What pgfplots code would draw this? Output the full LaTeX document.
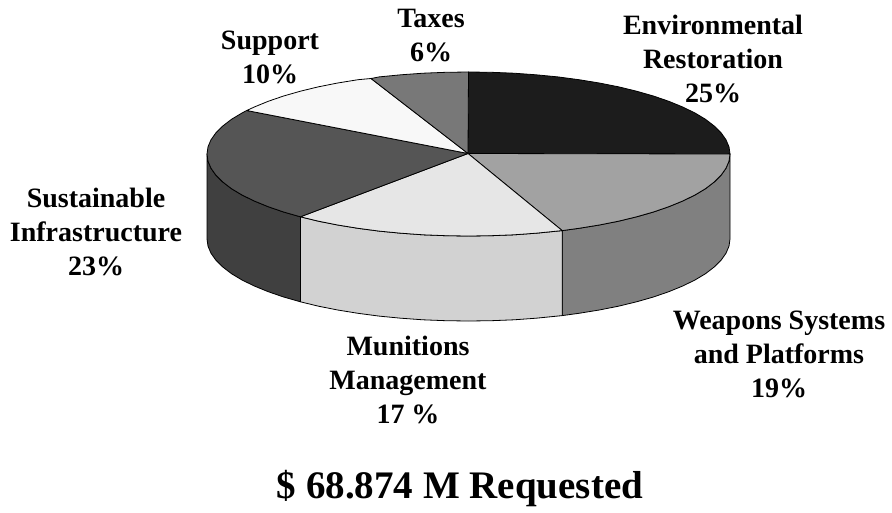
\documentclass[border=0pt]{standalone}
\usepackage{fontspec}
\setmainfont{Liberation Serif}
\usepackage{pgfplots}
\pgfplotsset{compat=1.18}
\definecolor{cEnv}{HTML}{1C1C1C}
\definecolor{cWeaT}{HTML}{A2A2A2}
\definecolor{cWeaS}{HTML}{808080}
\definecolor{cMunT}{HTML}{E6E6E6}
\definecolor{cMunS}{HTML}{D2D2D2}
\definecolor{cSusT}{HTML}{555555}
\definecolor{cSusS}{HTML}{404040}
\definecolor{cSup}{HTML}{F8F8F8}
\definecolor{cTax}{HTML}{787878}
\begin{document}
\begin{tikzpicture}[x=1pt,y=1pt]
\path[use as bounding box] (0,0) rectangle (892,512);
\begin{axis}[at={(0,0)},anchor=south west,scale only axis,width=892pt,height=512pt,
  xmin=0,xmax=892,ymin=0,ymax=512,y dir=reverse,hide axis,clip=false]
\pgfplotsset{every axis plot/.append style={draw=black,line width=0.8pt,line join=round}}
% sides
\addplot[fill=cWeaS] coordinates {(730.0,154.0)(729.0,161.2)(726.0,168.2)(721.1,175.2)(714.2,182.0)(705.5,188.7)(695.0,195.0)(682.7,201.0)(668.8,206.7)(653.4,212.0)(636.6,216.8)(618.5,221.2)(599.3,225.0)(579.0,228.3)(562.2,230.6)
 (562.2,315.6)(579.0,313.3)(599.3,310.0)(618.5,306.2)(636.6,301.8)(653.4,297.0)(668.8,291.7)(682.7,286.0)(695.0,280.0)(705.5,273.7)(714.2,267.0)(721.1,260.2)(726.0,253.2)(729.0,246.2)(730.0,239.0)} -- cycle;
\addplot[fill=cMunS] coordinates {(562.2,230.6)(536.2,233.2)(513.9,234.8)(491.3,235.7)(468.5,236.0)(445.7,235.7)(423.1,234.8)(400.8,233.2)(379.1,231.1)(358.0,228.3)(337.7,225.0)(318.5,221.2)(300.4,216.8)
 (300.4,301.8)(318.5,306.2)(337.7,310.0)(358.0,313.3)(379.1,316.1)(400.8,318.2)(423.1,319.8)(445.7,320.7)(468.5,321.0)(491.3,320.7)(513.9,319.8)(536.2,318.2)(562.2,315.6)} -- cycle;
\addplot[fill=cSusS] coordinates {(300.4,216.8)(283.6,212.0)(268.2,206.7)(254.3,201.0)(242.0,195.0)(231.5,188.7)(222.8,182.0)(215.9,175.2)(211.0,168.2)(208.0,161.2)(207.0,154.0)
 (207.0,239.0)(208.0,246.2)(211.0,253.2)(215.9,260.2)(222.8,267.0)(231.5,273.7)(242.0,280.0)(254.3,286.0)(268.2,291.7)(283.6,297.0)(300.4,301.8)} -- cycle;
% top slices
\addplot[fill=cEnv] coordinates {(468,153.5)(468.5,72.0)(491.3,72.3)(513.9,73.2)(536.2,74.8)(557.9,76.9)(579.0,79.7)(599.3,83.0)(618.5,86.8)(636.6,91.2)(653.4,96.0)(668.8,101.3)(682.7,107.0)(695.0,113.0)(705.5,119.3)(714.2,126.0)(721.1,132.8)(726.0,139.8)(729.0,146.8)(730.0,154.0)} -- cycle;
\addplot[fill=cWeaT] coordinates {(468,153.5)(730.0,154.0)(729.0,161.2)(726.0,168.2)(721.1,175.2)(714.2,182.0)(705.5,188.7)(695.0,195.0)(682.7,201.0)(668.8,206.7)(653.4,212.0)(636.6,216.8)(618.5,221.2)(599.3,225.0)(579.0,228.3)(562.2,230.6)} -- cycle;
\addplot[fill=cMunT] coordinates {(468,153.5)(562.2,230.6)(536.2,233.2)(513.9,234.8)(491.3,235.7)(468.5,236.0)(445.7,235.7)(423.1,234.8)(400.8,233.2)(379.1,231.1)(358.0,228.3)(337.7,225.0)(318.5,221.2)(300.4,216.8)} -- cycle;
\addplot[fill=cSusT] coordinates {(468,153.5)(300.4,216.8)(283.6,212.0)(268.2,206.7)(254.3,201.0)(242.0,195.0)(231.5,188.7)(222.8,182.0)(215.9,175.2)(211.0,168.2)(208.0,161.2)(207.0,154.0)(208.0,146.8)(211.0,139.8)(215.9,132.8)(222.8,126.0)(231.5,119.3)(242.0,113.0)(246.7,110.5)} -- cycle;
\addplot[fill=cSup] coordinates {(468,153.5)(246.7,110.5)(254.3,107.0)(268.2,101.3)(283.6,96.0)(300.4,91.2)(318.5,86.8)(337.7,83.0)(358.0,79.7)(371.0,78.5)} -- cycle;
\addplot[fill=cTax] coordinates {(468,153.5)(371.0,78.5)(379.1,76.9)(400.8,74.8)(423.1,73.2)(445.7,72.3)(468.5,72.0)} -- cycle;
% labels
\tikzset{lab/.style={anchor=base,font=\fontsize{28}{28}\selectfont\bfseries,inner sep=0pt}}
\node[lab] at (axis cs:431,27) {Taxes};
\node[lab] at (axis cs:431,61) {6\%};
\node[lab] at (axis cs:270,49) {Support};
\node[lab] at (axis cs:270,83) {10\%};
\node[lab] at (axis cs:713,34) {Environmental};
\node[lab] at (axis cs:713,68) {Restoration};
\node[lab] at (axis cs:713,102) {25\%};
\node[lab] at (axis cs:96,207) {Sustainable};
\node[lab] at (axis cs:96,241) {Infrastructure};
\node[lab] at (axis cs:96,275) {23\%};
\node[lab] at (axis cs:779,329) {Weapons Systems};
\node[lab] at (axis cs:779,363) {and Platforms};
\node[lab] at (axis cs:779,397) {19\%};
\node[lab] at (axis cs:408,355) {Munitions};
\node[lab] at (axis cs:408,389) {Management};
\node[lab] at (axis cs:408,423) {17 \%};
\node[lab,font=\fontsize{39}{39}\selectfont\bfseries] at (axis cs:460,498) {\$ 68.874 M Requested};
\end{axis}
\end{tikzpicture}
\end{document}
